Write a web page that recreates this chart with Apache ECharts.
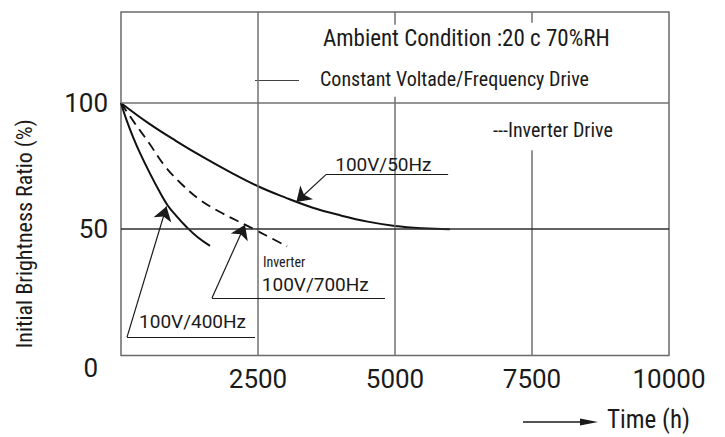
<!DOCTYPE html>
<html><head><meta charset="utf-8">
<script src="https://cdn.jsdelivr.net/npm/echarts/dist/echarts.min.js"></script>
<style>body{margin:0;background:#fff}#c{width:725px;height:437px}</style>
</head><body><div id="c"></div>
<script>
// ---- data ----
const xTickLabels = [0, 2500, 5000, 7500, 10000];
const yTickLabels = [0, 50, 100];

const hours50Hz  = [0, 500, 1000, 1500, 2000, 2500, 3000, 3500, 4000, 4500, 5000, 5500, 6000];
const ratio50Hz  = [100, 92, 85, 78.5, 72.5, 67, 62.5, 58.5, 55.5, 53, 51.3, 50.4, 50];

const hours400Hz = [0, 100, 220, 350, 530, 700, 850, 1000, 1200, 1400, 1624];
const ratio400Hz = [100, 93.3, 86.5, 80, 72, 65, 59.5, 55.5, 50.8, 46.8, 43.4];

const hours700Hz = [0, 250, 500, 800, 1100, 1450, 1850, 2263, 2650, 3030];
const ratio700Hz = [100, 92, 84.5, 75, 68, 61.5, 56.3, 51.8, 47.5, 43.2];

// annotation anchors (hours, ratio)
const label50Hz   = {text: '100V/50Hz',  at: [3900, 75.5], shelf: [3740, 5970, 71.6], tip: [3200, 60.8]};
const label400Hz  = {text: '100V/400Hz', at: [320, 13.3],  shelf: [110, 2445, 7.3],   tip: [830, 59]};
const label700Hz  = {text: '100V/700Hz', at: [2560, 28],   shelf: [1660, 4818, 22.8], tip: [2263, 51.8]};
const labelInverter = {text: 'Inverter', at: [2580, 37.2]};

// grid line segments [x1, y1, x2, y2] in data units
const gridSegments = [
  [2500, 0, 2500, 136],
  [5000, 0, 5000, 102.4], [5000, 131, 5000, 136],
  [7500, 0, 7500, 81.3], [7500, 131.7, 7500, 136],
  [0, 100, 10000, 100]
];
const gridSegmentsDark = [[0, 50, 10000, 50]];

const FONT_C = 'Roboto Condensed';
const FONT_N = 'Roboto';
const INK = '#1a1a1a';

function zip(a, b) { return a.map((v, i) => [v, b[i]]); }
function segs(list) { return list.map(s => [{coord: [s[0], s[1]]}, {coord: [s[2], s[3]]}]); }

function annot(a, extra) {
  const ml = [
    [{coord: [a.shelf[0], a.shelf[2]]}, {coord: [a.shelf[1], a.shelf[2]]}],
    [{coord: [a.shelf[0], a.shelf[2]]}, {coord: a.tip, symbol: 'arrow', symbolSize: 14}]
  ];
  const mp = [{coord: a.at, value: a.text}];
  if (extra) mp.push({coord: extra.at, value: extra.text, label: {fontSize: 14, fontFamily: FONT_C}});
  return {
    markLine: {silent: true, symbol: ['none', 'none'], lineStyle: {color: INK, width: 1.2, type: 'solid'}, label: {show: false}, data: ml, animation: false},
    markPoint: {silent: true, symbol: 'circle', symbolSize: 1, itemStyle: {color: 'rgba(0,0,0,0)'},
      label: {show: true, position: 'right', distance: 0, formatter: p => p.value, color: INK, fontSize: 19, fontFamily: FONT_N},
      data: mp, animation: false}
  };
}

const chart = echarts.init(document.getElementById('c'), null, {renderer: 'svg'});
chart.setOption({
  animation: false,
  backgroundColor: '#fff',
  grid: {left: 121, top: 12, right: 56, bottom: 81.5, show: true, borderColor: '#6a6a6a', borderWidth: 1.5, backgroundColor: 'transparent'},
  xAxis: {
    type: 'value', min: 0, max: 10000, interval: 2500,
    axisLine: {show: false}, axisTick: {show: false}, splitLine: {show: false},
    axisLabel: {margin: 10, fontSize: 26, fontFamily: FONT_N, color: INK,
      formatter: v => (v !== 0 && xTickLabels.includes(v)) ? String(v) : ''}
  },
  yAxis: {
    type: 'value', min: 0, max: 136, interval: 50,
    axisLine: {show: false}, axisTick: {show: false}, splitLine: {show: false},
    axisLabel: {margin: 13, fontSize: 26, fontFamily: FONT_N, color: INK,
      formatter: v => v === 0 ? '{z|0}' : (yTickLabels.includes(v) ? String(v) : ''),
      rich: {z: {fontSize: 26, fontFamily: FONT_N, color: INK, padding: [24, 10, 0, 0]}}},
    name: 'Initial Brightness Ratio (%)', nameLocation: 'middle', nameGap: 86,
    nameTextStyle: {fontSize: 22, fontFamily: FONT_C, color: INK, padding: [0, 100, 0, 0]}
  },
  series: [
    {type: 'line', name: 'grid', data: [], silent: true, z: 1,
     markLine: {silent: true, symbol: ['none', 'none'], label: {show: false}, animation: false,
       lineStyle: {color: '#707070', width: 1.5, type: 'solid'},
       data: segs(gridSegments).concat(segs(gridSegmentsDark).map(d => [Object.assign({lineStyle: {color: '#2e2e2e', width: 1.5}}, d[0]), d[1]]))}},
    Object.assign({type: 'line', name: '100V/50Hz', data: zip(hours50Hz, ratio50Hz), smooth: 0.4, showSymbol: false, z: 3,
      lineStyle: {color: '#111', width: 2}}, annot(label50Hz)),
    Object.assign({type: 'line', name: '100V/400Hz', data: zip(hours400Hz, ratio400Hz), smooth: 0.4, showSymbol: false, z: 3,
      lineStyle: {color: '#111', width: 2}}, annot(label400Hz)),
    Object.assign({type: 'line', name: 'Inverter 100V/700Hz', data: zip(hours700Hz, ratio700Hz), smooth: 0.4, showSymbol: false, z: 3,
      lineStyle: {color: '#111', width: 1.8, type: [10, 6]}}, annot(label700Hz, labelInverter))
  ],
  graphic: [
    {type: 'text', left: 323, top: 27, style: {text: 'Ambient Condition :20 c 70%RH', fontSize: 23, fontFamily: FONT_C, fill: INK}},
    {type: 'line', shape: {x1: 255, y1: 80.5, x2: 299, y2: 80.5}, style: {stroke: '#444', lineWidth: 1.2}},
    {type: 'text', left: 320, top: 69, style: {text: 'Constant Voltade/Frequency Drive', fontSize: 20, fontFamily: FONT_C, fill: INK}},
    {type: 'text', left: 493, top: 120, style: {text: '---Inverter Drive', fontSize: 20, fontFamily: FONT_C, fill: INK}},
    {type: 'line', shape: {x1: 523, y1: 422, x2: 583, y2: 422}, style: {stroke: INK, lineWidth: 1.3}},
    {type: 'polygon', shape: {points: [[580, 418.5], [598, 422], [580, 425.5]]}, style: {fill: INK}},
    {type: 'text', left: 607, top: 407, style: {text: 'Time (h)', fontSize: 25, fontFamily: FONT_C, fill: INK}}
  ]
});
</script>
</body></html>
